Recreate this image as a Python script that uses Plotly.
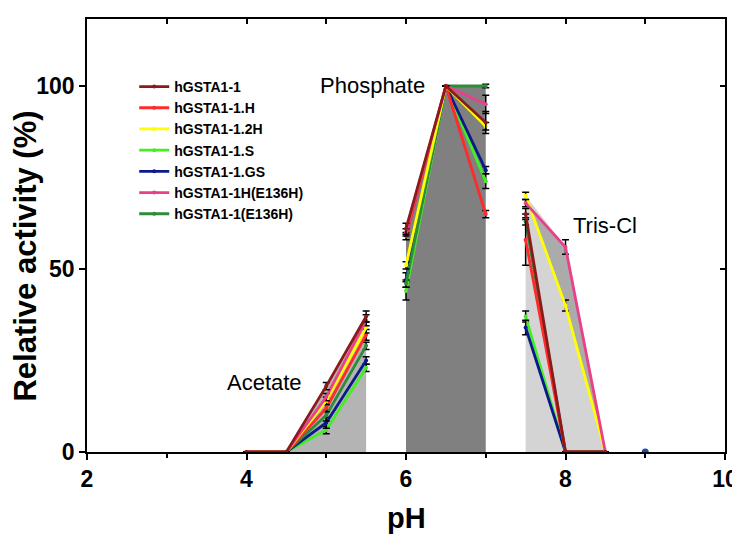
import plotly.graph_objects as go

# pH positions (None = gap between buffer systems)
ph = [4, 4.5, 5, 5.5, None, 6, 6.5, 7, None, 7.5, 8, 8.5]

names = ["hGSTA1-1", "hGSTA1-1.H", "hGSTA1-1.2H", "hGSTA1-1.S",
         "hGSTA1-1.GS", "hGSTA1-1H(E136H)", "hGSTA1-1(E136H)"]
colors = ["#8b1a1a", "#ff2a2a", "#ffff00", "#44ee22",
          "#0a1a8a", "#e8408a", "#2e8b3a"]

act_wt      = [0, 0, 18, 37, None, 61, 100, 90, None, 65, 0, 0]
act_h       = [0, 0, 12, 32, None, 59, 100, 65, None, 58, 0, 0]
act_2h      = [0, 0, 14, 34, None, 51, 100, 89, None, 70, 40, 0]
act_s       = [0, 0, 6, 23, None, 44, 100, 74, None, 37, 0, 0]
act_gs      = [0, 0, 8, 25, None, 47, 100, 77, None, 34, 0, 0]
act_h_e136h = [0, 0, 15, 36, None, 60, 100, 95, None, 68, 56, 0]
act_e136h   = [0, 0, 10, 29, None, 46, 100, 100, None, 63, 0, 0]

err_wt      = [0, 0, 1, 1.5, None, 1.5, 0, 3, None, 1.5, 0, 0]
err_h       = [0, 0, 1, 1.5, None, 1, 0, 1, None, 7, 0, 0]
err_2h      = [0, 0, 1, 1.5, None, 1, 0, 1, None, 1, 1.5, 0]
err_s       = [0, 0, 1, 1, None, 2.5, 0, 2, None, 1.5, 0, 0]
err_gs      = [0, 0, 1.5, 1, None, 2, 0, 1, None, 2, 0, 0]
err_h_e136h = [0, 0, 1, 1.5, None, 1, 0, 2.5, None, 1, 2, 0]
err_e136h   = [0, 0, 1.5, 1, None, 1, 0, 0.5, None, 1, 0, 0]

activities = [act_wt, act_h, act_2h, act_s, act_gs, act_h_e136h, act_e136h]
errors = [err_wt, err_h, err_2h, err_s, err_gs, err_h_e136h, err_e136h]

# extra point: hGSTA1-1.GS at pH 9
gs_extra_ph = [9]
gs_extra_act = [0]

# buffer regions (index ranges into ph)
regions = {"Acetate": (1, 4, "#b4b4b4"), "Phosphate": (5, 8, "#808080"),
           "Tris-Cl": (9, 12, "#d4d4d4")}
region_labels = ["Acetate", "Phosphate", "Tris-Cl"]
label_pos_x = [4.23, 5.58, 8.5]
label_pos_y = [19, 100, 62]

font_fam = "Liberation Sans, Arial"

fig = go.Figure()

# shaded buffer areas under the envelope of all series
for key, (i0, i1, col) in regions.items():
    xs = ph[i0:i1]
    env = [max(a[i] for a in activities) for i in range(i0, i1)]
    fig.add_trace(go.Scatter(x=xs, y=env, mode="lines", line=dict(width=0),
                             fill="tozeroy", fillcolor=col, showlegend=False,
                             hoverinfo="skip"))

# darker band in Tris between 2H and H(E136H)
fig.add_trace(go.Scatter(x=ph[9:12], y=act_2h[9:12], mode="lines",
                         line=dict(width=0), showlegend=False, hoverinfo="skip"))
fig.add_trace(go.Scatter(x=ph[9:12], y=act_h_e136h[9:12], mode="lines",
                         line=dict(width=0), fill="tonexty", fillcolor="#ababab",
                         showlegend=False, hoverinfo="skip"))

draw_order = [3, 4, 6, 1, 2, 5, 0]
for idx in draw_order:
    fig.add_trace(go.Scatter(
        x=ph, y=activities[idx], name=names[idx], mode="lines+markers",
        line=dict(color=colors[idx], width=2.8),
        marker=dict(color=colors[idx], size=4),
        error_y=dict(type="data", array=errors[idx], color="black",
                     thickness=1.5, width=3.5),
        connectgaps=False, legendrank=idx + 1))

fig.add_trace(go.Scatter(x=gs_extra_ph, y=gs_extra_act, mode="markers",
                         marker=dict(color="#1f4e9a", size=7), showlegend=False))

for lab, lx, ly in zip(region_labels, label_pos_x, label_pos_y):
    fig.add_annotation(x=lx, y=ly, text=lab, showarrow=False,
                       font=dict(family=font_fam, size=22, color="black"))

# axis titles
fig.add_annotation(xref="paper", yref="paper", x=0.5, y=-0.152, text="pH",
                   showarrow=False, xanchor="center", yanchor="middle",
                   font=dict(family=font_fam, size=29, color="black", weight="bold"))
fig.add_annotation(xref="paper", yref="paper", x=-0.096, y=0.453,
                   text="Relative activity (%)", textangle=-90,
                   showarrow=False, xanchor="center", yanchor="middle",
                   font=dict(family=font_fam, size=31, color="black", weight="bold"))

# the page body adds an 8px offset, so the figure is sized to compensate
fig.update_layout(
    width=732, height=534,
    margin=dict(l=79, r=15, t=11, b=90),
    plot_bgcolor="white", paper_bgcolor="white",
    showlegend=True,
    legend=dict(x=0.074, y=0.88, xanchor="left", yanchor="top",
                traceorder="normal",
                bgcolor="rgba(0,0,0,0)", tracegroupgap=0, itemwidth=30,
                font=dict(family=font_fam, size=14, color="black", weight="bold")),
    xaxis=dict(range=[2, 10], tickvals=[2, 4, 6, 8, 10], ticks="outside",
               ticklen=6, tickwidth=1.5, tickcolor="black", automargin=False,
               minor=dict(ticks="outside", dtick=1, ticklen=4, tickwidth=1.5,
                          tickcolor="black"),
               showline=True, linecolor="black", linewidth=1.5,
               showgrid=False, zeroline=False,
               tickfont=dict(family=font_fam, size=23, color="black", weight="bold")),
    yaxis=dict(range=[0, 118.3], tickvals=[0, 50, 100], ticks="outside",
               ticklen=6, tickwidth=1.5, tickcolor="black", automargin=False,
               showline=True, linecolor="black", linewidth=1.5,
               showgrid=False, zeroline=False,
               tickfont=dict(family=font_fam, size=23, color="black", weight="bold")),
    xaxis2=dict(range=[2, 10], overlaying="x", side="top", dtick=1, tick0=2,
                ticks="inside", ticklen=5, tickwidth=1.5, tickcolor="black",
                showticklabels=False, showline=True, linecolor="black",
                linewidth=1.5, showgrid=False, zeroline=False, automargin=False),
    yaxis2=dict(range=[0, 118.3], overlaying="y", side="right",
                tickvals=[50, 100], ticks="inside", ticklen=5, tickwidth=1.5,
                tickcolor="black", showticklabels=False, showline=True,
                linecolor="black", linewidth=1.5, showgrid=False, zeroline=False,
                automargin=False),
)
# dummy trace to activate the mirror axes
fig.add_trace(go.Scatter(x=[None], y=[None], xaxis="x2", yaxis="y2",
                         showlegend=False, hoverinfo="skip"))

fig.write_html("out.html")
